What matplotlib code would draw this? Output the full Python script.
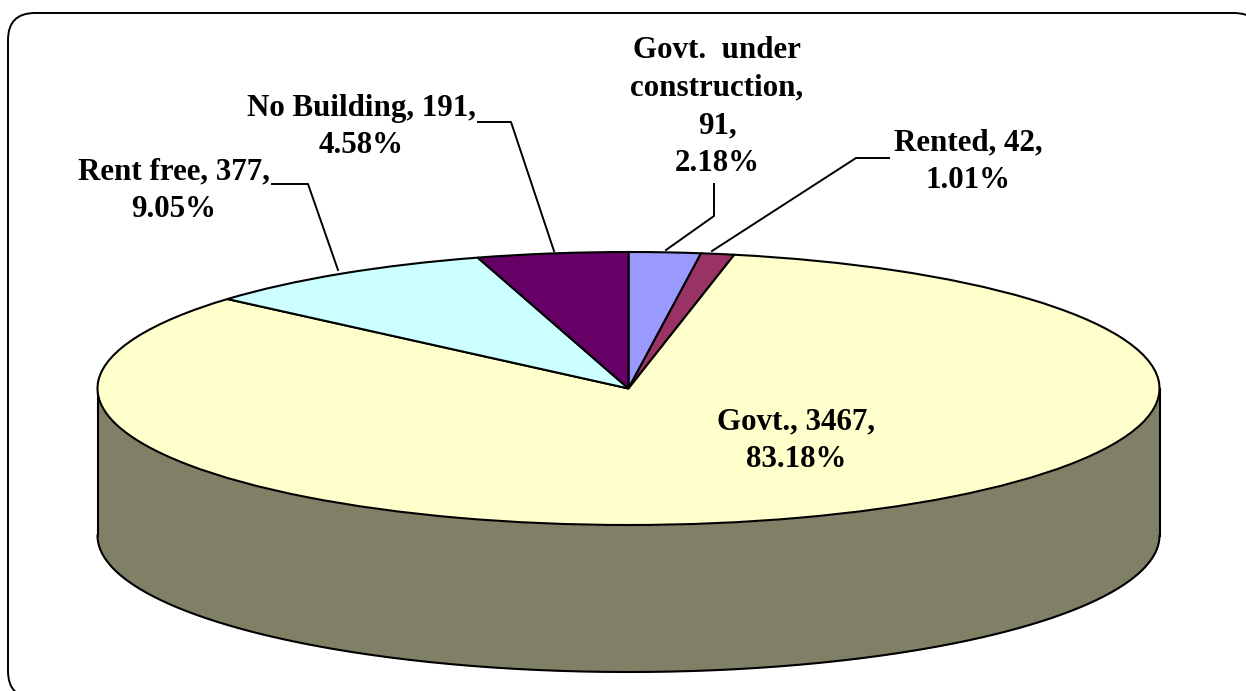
import numpy as np
import matplotlib
matplotlib.use('Agg')
import matplotlib.pyplot as plt
from matplotlib.patches import FancyBboxPatch

# Values as printed on the chart, clockwise from the top of the pie
categories = ['Govt.  under\nconstruction,\n91,\n2.18%', 'Rented, 42,\n1.01%', 'Govt., 3467,\n83.18%',
              'Rent free, 377,\n9.05%', 'No Building, 191,\n4.58%']
values = [91, 42, 3467, 377, 191]
colors = ['#9999FF', '#993366', '#FFFFCC', '#CCFFFF', '#660066']
wall_color = '#808066'

W, H = 1246, 691
plt.rcParams['font.family'] = ['Liberation Serif', 'DejaVu Serif']
fig = plt.figure(figsize=(W / 100, H / 100), dpi=100)

# Overlay in pixel coordinates for border, labels and leader lines
bg = fig.add_axes([0, 0, 1, 1])
bg.set_xlim(0, W)
bg.set_ylim(H, 0)
bg.axis('off')
bg.add_patch(FancyBboxPatch((35, 40), 1199, 631, boxstyle='round,pad=27,rounding_size=27',
                            fc='white', ec='black', lw=1.4, mutation_aspect=1))

# Pie centre and radii in pixels
cx, cy, rx, ry = 628.5, 388.5, 531, 136.5
depth = 147

# Side wall
t = np.linspace(np.pi, 2 * np.pi, 300)
xs = cx + rx * np.cos(t)
ys = cy - ry * np.sin(t)
bg.fill_between(xs, ys, ys + depth, color=wall_color, lw=0, zorder=2)
bg.plot(xs, ys + depth, color='black', lw=1.5, zorder=3)
bg.plot([cx - rx, cx - rx], [cy, cy + depth], color='black', lw=1.5, zorder=3)
bg.plot([cx + rx, cx + rx], [cy, cy + depth], color='black', lw=1.5, zorder=3)

# Top of the pie, flattened by letting the axes squash the circle
ax = fig.add_axes([(cx - rx) / W, 1 - (cy + ry) / H, 2 * rx / W, 2 * ry / H], zorder=3)
ax.pie(values, colors=colors, startangle=90, counterclock=False, radius=1,
       wedgeprops={'edgecolor': 'black', 'linewidth': 1.5})
ax.set_aspect('auto')
ax.set_xlim(-1, 1)
ax.set_ylim(-1, 1)
ax.patch.set_alpha(0)

# Labels and leader lines
over = fig.add_axes([0, 0, 1, 1], zorder=5)
over.set_xlim(0, W)
over.set_ylim(H, 0)
over.axis('off')
label_pos = [(717, 107), (968, 161.5), (796, 441), (174, 191), (361, 127)]
for name, (x, y) in zip(categories, label_pos):
    over.text(x, y, name, ha='center', va='center', fontsize=22.3, fontweight='bold',
              linespacing=1.39, color='black')

leaders = [([714, 714, 666], [184, 216, 250]),
           ([889, 856, 712], [158, 158, 251]),
           ([272, 308, 338], [184, 184, 270]),
           ([478, 511, 554], [122, 122, 251])]
for lx, ly in leaders:
    over.plot(lx, ly, color='black', lw=1.4)

fig.savefig('out.png', dpi=100)
